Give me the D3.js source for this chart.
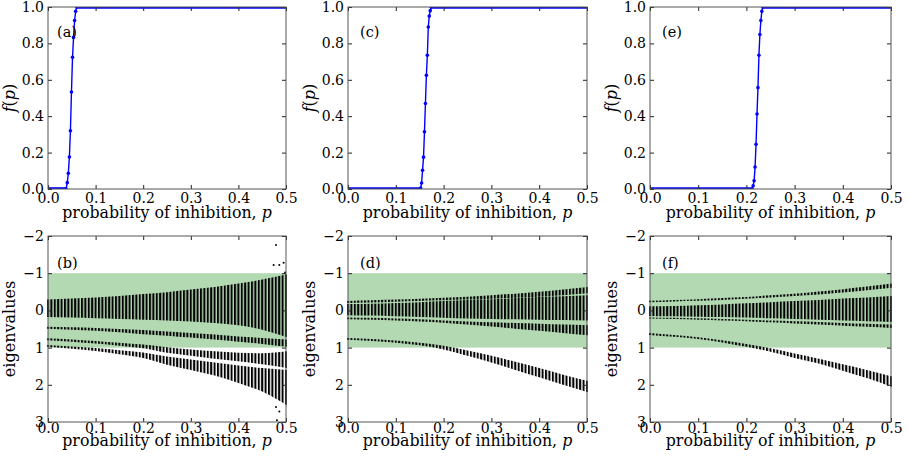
<!DOCTYPE html>
<html>
<head>
<meta charset="utf-8">
<script src="https://d3js.org/d3.v7.min.js"></script>
<style>
  body { margin: 0; background: #fff; }
  svg text { font-family: "DejaVu Serif", "Liberation Serif", serif; fill: #000; }
</style>
</head>
<body>
<div id="chart"></div>
<script>
// ---- top row: fraction f(p) ----
const fracP_a = [0, 0.038, 0.0405, 0.0427, 0.0449, 0.0471, 0.0493, 0.0515, 0.0537, 0.0559, 0.0581, 0.0603, 0.5];
const fracF_a = [0, 0, 0.035, 0.086, 0.176, 0.32, 0.533, 0.724, 0.833, 0.926, 0.976, 1, 1];
const fracP_c = [0, 0.150, 0.152, 0.154, 0.156, 0.158, 0.160, 0.162, 0.164, 0.166, 0.168, 0.170, 0.172, 0.174, 0.5];
const fracF_c = [0, 0, 0.005, 0.033, 0.103, 0.175, 0.314, 0.47, 0.625, 0.735, 0.89, 0.95, 0.98, 1, 1];
const fracP_e = [0, 0.212, 0.214, 0.216, 0.218, 0.220, 0.222, 0.224, 0.226, 0.228, 0.230, 0.232, 0.234, 0.5];
const fracF_e = [0, 0, 0.018, 0.045, 0.121, 0.246, 0.412, 0.557, 0.735, 0.849, 0.926, 0.976, 1, 1];

// ---- bottom row: eigenvalue bands, edges read at these p values ----
const eigP = [0, 0.05, 0.1, 0.15, 0.2, 0.25, 0.3, 0.35, 0.4, 0.45, 0.5];
const columnStep = 1 / 140;   // spacing of the eigenvalue columns

const bA_top = [-0.29, -0.32, -0.35, -0.39, -0.44, -0.49, -0.56, -0.63, -0.72, -0.83, -0.97];
const bA_bot = [0.18, 0.19, 0.21, 0.23, 0.25, 0.27, 0.30, 0.34, 0.40, 0.52, 0.72];
const bB_top = [0.44, 0.45, 0.47, 0.50, 0.53, 0.57, 0.61, 0.65, 0.70, 0.74, 0.78];
const bB_bot = [0.49, 0.52, 0.55, 0.59, 0.64, 0.68, 0.73, 0.78, 0.84, 0.90, 0.98];
const bC_top = [0.75, 0.78, 0.82, 0.87, 0.92, 0.99, 1.05, 1.10, 1.14, 1.15, 1.10];
const bC_bot = [0.80, 0.84, 0.89, 0.95, 1.02, 1.14, 1.22, 1.30, 1.37, 1.45, 1.55];
const bD_top = [0.93, 0.97, 1.01, 1.07, 1.13, 1.24, 1.32, 1.40, 1.48, 1.55, 1.60];
const bD_bot = [0.98, 1.03, 1.09, 1.18, 1.28, 1.46, 1.60, 1.75, 1.95, 2.18, 2.55];
const bOutP = [0.479, 0.474, 0.486, 0.495, 0.498, 0.479, 0.486, 0.481];
const bOutE = [-1.76, -1.22, -1.22, -1.28, -1.02, 2.6, 2.72, 2.95];

const dT_top = [-0.25, -0.27, -0.29, -0.31, -0.34, -0.37, -0.41, -0.45, -0.50, -0.56, -0.63];
const dT_bot = [-0.20, -0.21, -0.23, -0.25, -0.27, -0.29, -0.31, -0.34, -0.37, -0.41, -0.46];
const dM_top = [-0.17, -0.18, -0.20, -0.22, -0.25, -0.28, -0.30, -0.33, -0.36, -0.38, -0.41];
const dM_bot = [0.13, 0.14, 0.16, 0.18, 0.20, 0.22, 0.23, 0.24, 0.25, 0.26, 0.27];
const dL_top = [0.19, 0.20, 0.22, 0.24, 0.27, 0.30, 0.32, 0.34, 0.36, 0.38, 0.40];
const dL_bot = [0.24, 0.25, 0.27, 0.30, 0.33, 0.38, 0.43, 0.49, 0.55, 0.61, 0.67];
const dZ_top = [0.74, 0.77, 0.81, 0.87, 0.95, 1.08, 1.22, 1.38, 1.55, 1.73, 1.90];
const dZ_bot = [0.79, 0.82, 0.87, 0.94, 1.05, 1.22, 1.40, 1.60, 1.80, 2.00, 2.20];

const fT_top = [-0.26, -0.28, -0.30, -0.33, -0.36, -0.41, -0.45, -0.51, -0.57, -0.64, -0.72];
const fT_bot = [-0.22, -0.24, -0.26, -0.28, -0.31, -0.35, -0.39, -0.43, -0.48, -0.54, -0.61];
const fM_top = [-0.11, -0.12, -0.14, -0.16, -0.19, -0.22, -0.25, -0.28, -0.32, -0.35, -0.39];
const fM_bot = [0.15, 0.16, 0.17, 0.18, 0.19, 0.21, 0.23, 0.25, 0.27, 0.29, 0.31];
const fL_top = [0.19, 0.20, 0.21, 0.23, 0.25, 0.27, 0.29, 0.31, 0.34, 0.36, 0.38];
const fL_bot = [0.22, 0.23, 0.25, 0.27, 0.29, 0.32, 0.35, 0.38, 0.41, 0.44, 0.47];
const fZ_top = [0.61, 0.66, 0.72, 0.80, 0.90, 1.02, 1.16, 1.30, 1.45, 1.60, 1.78];
const fZ_bot = [0.66, 0.71, 0.77, 0.86, 0.98, 1.11, 1.28, 1.43, 1.62, 1.82, 2.06];

const stableRange = [-1, 1];
const xTicks = [0, 0.1, 0.2, 0.3, 0.4, 0.5];
const fTicks = [0, 0.2, 0.4, 0.6, 0.8, 1.0];
const eTicks = [-2, -1, 0, 1, 2, 3];
const labelsTop = ["(a)", "(c)", "(e)"];
const labelsBot = ["(b)", "(d)", "(f)"];

// ---- layout ----
const W = 908, H = 460;
const FONT = '"DejaVu Serif", "Liberation Serif", serif';
const cols = [{ x0: 48, x1: 286 }, { x0: 348, x1: 587 }, { x0: 650, x1: 891 }];
const rowTop = { y0: 7, y1: 189 };
const rowBot = { y0: 236, y1: 422 };

const svg = d3.select("#chart").append("svg")
  .attr("width", W).attr("height", H);
const defs = svg.append("defs");

function frameAxes(g, x, y, w, h, yFormat, yTickVals, xPad) {
  const fs = 14;
  const styleAxis = sel => {
    sel.select(".domain").remove();
    sel.selectAll(".tick line").attr("stroke", "#222");
    sel.attr("font-family", FONT).attr("font-size", fs);
    sel.selectAll("text").attr("fill", "#000");
  };
  g.append("g").attr("transform", `translate(0,${h})`)
    .call(d3.axisBottom(x).tickValues(xTicks).tickSizeInner(-4).tickSizeOuter(0)
      .tickPadding(xPad).tickFormat(d3.format(".1f")))
    .call(styleAxis);
  g.append("g")
    .call(d3.axisTop(x).tickValues(xTicks).tickSizeInner(-4).tickSizeOuter(0).tickFormat(""))
    .call(styleAxis);
  g.append("g")
    .call(d3.axisLeft(y).tickValues(yTickVals).tickSizeInner(-4).tickSizeOuter(0)
      .tickPadding(4).tickFormat(yFormat))
    .call(styleAxis);
  g.append("g").attr("transform", `translate(${w},0)`)
    .call(d3.axisRight(y).tickValues(yTickVals).tickSizeInner(-4).tickSizeOuter(0).tickFormat(""))
    .call(styleAxis);
  g.append("rect").attr("width", w).attr("height", h)
    .attr("fill", "none").attr("stroke", "#555").attr("stroke-width", 1);
}

function xLabel(g, w, yPos) {
  const t = g.append("text").attr("x", w / 2).attr("y", yPos)
    .attr("text-anchor", "middle").attr("font-size", 15.8);
  t.append("tspan").text("probability of inhibition, ");
  t.append("tspan").attr("font-style", "italic").text("p");
}

// ---- top row ----
const fracSets = [[fracP_a, fracF_a], [fracP_c, fracF_c], [fracP_e, fracF_e]];
fracSets.forEach(([ps, fs], i) => {
  const c = cols[i];
  const w = c.x1 - c.x0, h = rowTop.y1 - rowTop.y0;
  const g = svg.append("g").attr("transform", `translate(${c.x0},${rowTop.y0})`);
  const x = d3.scaleLinear().domain([0, 0.5]).range([0, w]);
  const y = d3.scaleLinear().domain([0, 1]).range([h, 0]);
  const data = ps.map((p, k) => ({ p, f: fs[k] }));

  defs.append("clipPath").attr("id", "clipTop" + i)
    .append("rect").attr("width", w).attr("height", h);
  const plot = g.append("g").attr("clip-path", `url(#clipTop${i})`);
  const line = d3.line().x(d => x(d.p)).y(d => y(d.f));
  // flat stretches look thick because the markers overlap there
  const low = data.filter(d => d.f === 0);
  const high = data.filter(d => d.f === 1);
  [low, high].forEach(seg => plot.append("path").datum(seg)
    .attr("d", line).attr("fill", "none").attr("stroke", "#0000ff").attr("stroke-width", 3.6));
  plot.append("path").datum(data).attr("d", line)
    .attr("fill", "none").attr("stroke", "#0000ff").attr("stroke-width", 1.4);
  plot.selectAll("circle").data(data.slice(1, -1)).join("circle")
    .attr("cx", d => x(d.p)).attr("cy", d => y(d.f)).attr("r", 1.8).attr("fill", "#0000ff");

  frameAxes(g, x, y, w, h, d3.format(".1f"), fTicks, 4);
  xLabel(g, w, h + 29);
  g.append("text").attr("x", 9 + (i ? 3 : 0)).attr("y", 30).attr("font-size", 14.5)
    .attr("fill", "#222").text(labelsTop[i]);
  const yl = g.append("text").attr("transform", `translate(-33,${h / 2}) rotate(-90)`)
    .attr("text-anchor", "middle").attr("font-size", 16);
  yl.append("tspan").attr("font-style", "italic").text("f");
  yl.append("tspan").text("(");
  yl.append("tspan").attr("font-style", "italic").text("p");
  yl.append("tspan").text(")");
});

// ---- bottom row ----
const bandSets = [
  [[bA_top, bA_bot], [bB_top, bB_bot], [bC_top, bC_bot], [bD_top, bD_bot]],
  [[dT_top, dT_bot], [dM_top, dM_bot], [dL_top, dL_bot], [dZ_top, dZ_bot]],
  [[fT_top, fT_bot], [fM_top, fM_bot], [fL_top, fL_bot], [fZ_top, fZ_bot]]
];
bandSets.forEach((bands, i) => {
  const c = cols[i];
  const w = c.x1 - c.x0, h = rowBot.y1 - rowBot.y0;
  const g = svg.append("g").attr("transform", `translate(${c.x0},${rowBot.y0})`);
  const x = d3.scaleLinear().domain([0, 0.5]).range([0, w]);
  const y = d3.scaleLinear().domain([-2, 3]).range([0, h]);

  g.append("rect").attr("x", 0).attr("width", w)
    .attr("y", y(stableRange[0])).attr("height", y(stableRange[1]) - y(stableRange[0]))
    .attr("fill", "#b2d9b2");

  // one vertical column of eigenvalues per sampled p: stripe pattern
  const step = x(columnStep) - x(0);
  const pat = defs.append("pattern").attr("id", "cols" + i)
    .attr("patternUnits", "userSpaceOnUse")
    .attr("x", -1).attr("y", 0).attr("width", step).attr("height", h + 40);
  pat.append("rect").attr("x", 0).attr("y", 0).attr("width", 2).attr("height", h + 40)
    .attr("fill", "#000");

  const area = d3.area().curve(d3.curveMonotoneX)
    .x(d => x(d.p) + (d.p === 0 ? -1 : d.p === 0.5 ? 1 : 0))
    .y0(d => y(d.lo)).y1(d => y(d.hi));
  bands.forEach(([tops, bots]) => {
    const data = eigP.map((p, k) => ({ p, lo: tops[k], hi: bots[k] }));
    g.append("path").datum(data).attr("d", area).attr("fill", `url(#cols${i})`);
  });
  if (i === 0) {
    g.selectAll(".out").data(bOutP.map((p, k) => ({ p, e: bOutE[k] }))).join("circle")
      .attr("class", "out").attr("cx", d => x(d.p)).attr("cy", d => y(d.e))
      .attr("r", 1).attr("fill", "#000");
  }

  frameAxes(g, x, y, w, h, d3.format("d"), eTicks, 1);
  xLabel(g, w, h + 24);
  g.append("text").attr("x", 9 + (i ? 3 : 0)).attr("y", 32).attr("font-size", 14.5)
    .attr("fill", "#222").text(labelsBot[i]);
  g.append("text").attr("transform", `translate(-33,${h / 2}) rotate(-90)`)
    .attr("text-anchor", "middle").attr("font-size", 16).text("eigenvalues");
});
</script>
</body>
</html>
